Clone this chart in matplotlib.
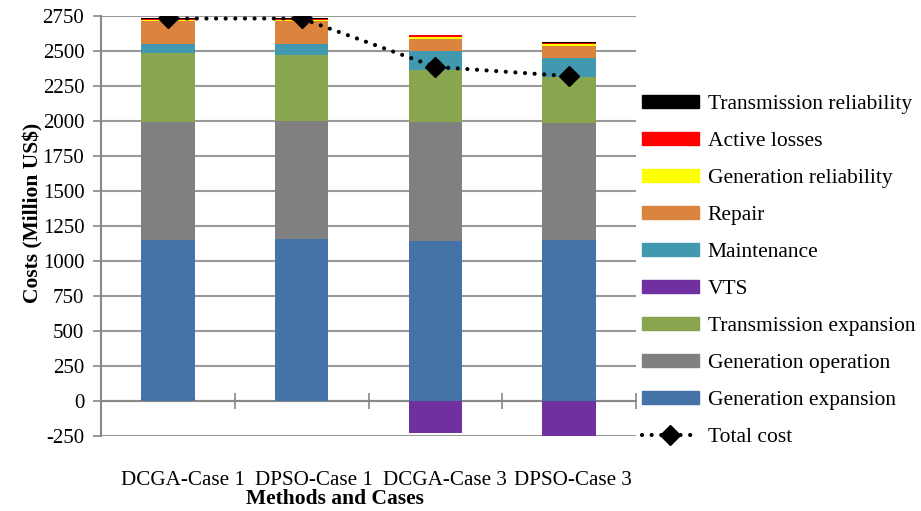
import numpy as np
import matplotlib.pyplot as plt
from matplotlib.patches import Patch
from matplotlib.lines import Line2D

plt.rcParams['font.family'] = ['Liberation Serif', 'DejaVu Serif']
plt.rcParams['axes.unicode_minus'] = False

cases = ['DCGA-Case 1', 'DPSO-Case 1', 'DCGA-Case 3', 'DPSO-Case 3']

# cost components (million US$), stacked bottom to top
gen_expansion = [1151, 1158, 1144, 1151]
gen_operation = [842, 843, 849, 835]
trans_expansion = [488, 468, 371, 326]
maintenance = [68, 80, 133, 135]
repair = [162, 164, 86, 88]
gen_reliability = [7, 7, 12, 12]
active_losses = [7, 7, 16, 7]
trans_reliability = [8, 8, 0, 7]
vts = [0, 0, -227, -244]
total_cost = [2730, 2730, 2385, 2319]

y_ticks = np.arange(-250, 2751, 250)

layers = [
    ('Generation expansion', gen_expansion, '#4572A7'),
    ('Generation operation', gen_operation, '#808080'),
    ('Transmission expansion', trans_expansion, '#89A54E'),
    ('Maintenance', maintenance, '#4198AF'),
    ('Repair', repair, '#DB843D'),
    ('Generation reliability', gen_reliability, '#FFFF00'),
    ('Active losses', active_losses, '#FF0000'),
    ('Transmission reliability', trans_reliability, '#000000'),
]
vts_color = '#7030A0'

fig = plt.figure(figsize=(9.21, 5.11), dpi=100)
ax = fig.add_axes([0.1097, 0.1458, 0.5809, 0.8235])

x = np.arange(len(cases))
width = 0.4
bottom = np.zeros(len(cases))
handles = {}
for name, vals, color in layers:
    vals = np.array(vals, dtype=float)
    ax.bar(x, vals, width, bottom=bottom, color=color, zorder=3)
    bottom += vals
    handles[name] = Patch(color=color)
ax.bar(x, vts, width, color=vts_color, zorder=3)
handles['VTS'] = Patch(color=vts_color)

# round dots: near-zero dash with round caps
dots = (0, (0.01, 2.3))
line_style = dict(color='black', linestyle=dots, linewidth=3, dash_capstyle='round',
                  marker='D', markersize=10)
ax.plot(x, total_cost, zorder=5, **line_style)

ax.set_xlim(-0.5, len(cases) - 0.5)
ax.set_ylim(-250, 2750)
ax.set_yticks(y_ticks)
ax.yaxis.grid(True, color='#999999', linewidth=1.5, zorder=0)
ax.tick_params(axis='y', labelsize=15, length=6, pad=6, color='#888888', width=1.2,
               direction='out')

# category boundary ticks on the zero line; labels packed slightly to the right
ax.spines['bottom'].set_position(('data', 0))
ax.spines['bottom'].set_color('#888888')
ax.spines['bottom'].set_linewidth(1.5)
ax.set_xticks(np.arange(len(cases)) + 0.5, minor=True)
ax.set_xticks(x)
ax.set_xticklabels([])
ax.tick_params(axis='x', which='major', length=0)
ax.tick_params(axis='x', which='minor', length=12, width=1.2, color='#888888', direction='inout')
label_shift = [0.11, 0.09, 0.07, 0.03]
for xi, dx, label in zip(x, label_shift, cases):
    ax.text(xi + dx, -0.105, label, transform=ax.get_xaxis_transform(),
            ha='center', va='center', fontsize=15.2)
ax.text(0.437, -0.148, 'Methods and Cases', transform=ax.transAxes, ha='center', va='center',
        fontsize=15.5, fontweight='bold')

ax.spines['left'].set_color('#888888')
ax.spines['left'].set_linewidth(1.5)
ax.spines['top'].set_visible(False)
ax.spines['right'].set_visible(False)
ax.set_ylabel('Costs (Million US$)', fontsize=15.5, fontweight='bold')
ax.yaxis.set_label_coords(-0.108, 0.531)

order = ['Transmission reliability', 'Active losses', 'Generation reliability', 'Repair',
         'Maintenance', 'VTS', 'Transmission expansion', 'Generation operation',
         'Generation expansion']
leg_handles = [handles[n] for n in order]
leg_handles.append(Line2D([], [], **line_style))
fig.legend(leg_handles, order + ['Total cost'], loc='upper left', bbox_to_anchor=(0.685, 0.836),
           frameon=False, fontsize=15.5, handlelength=2.65, handleheight=0.56,
           labelspacing=0.83, handletextpad=0.42, borderpad=0)

fig.savefig('out.png', dpi=100)
